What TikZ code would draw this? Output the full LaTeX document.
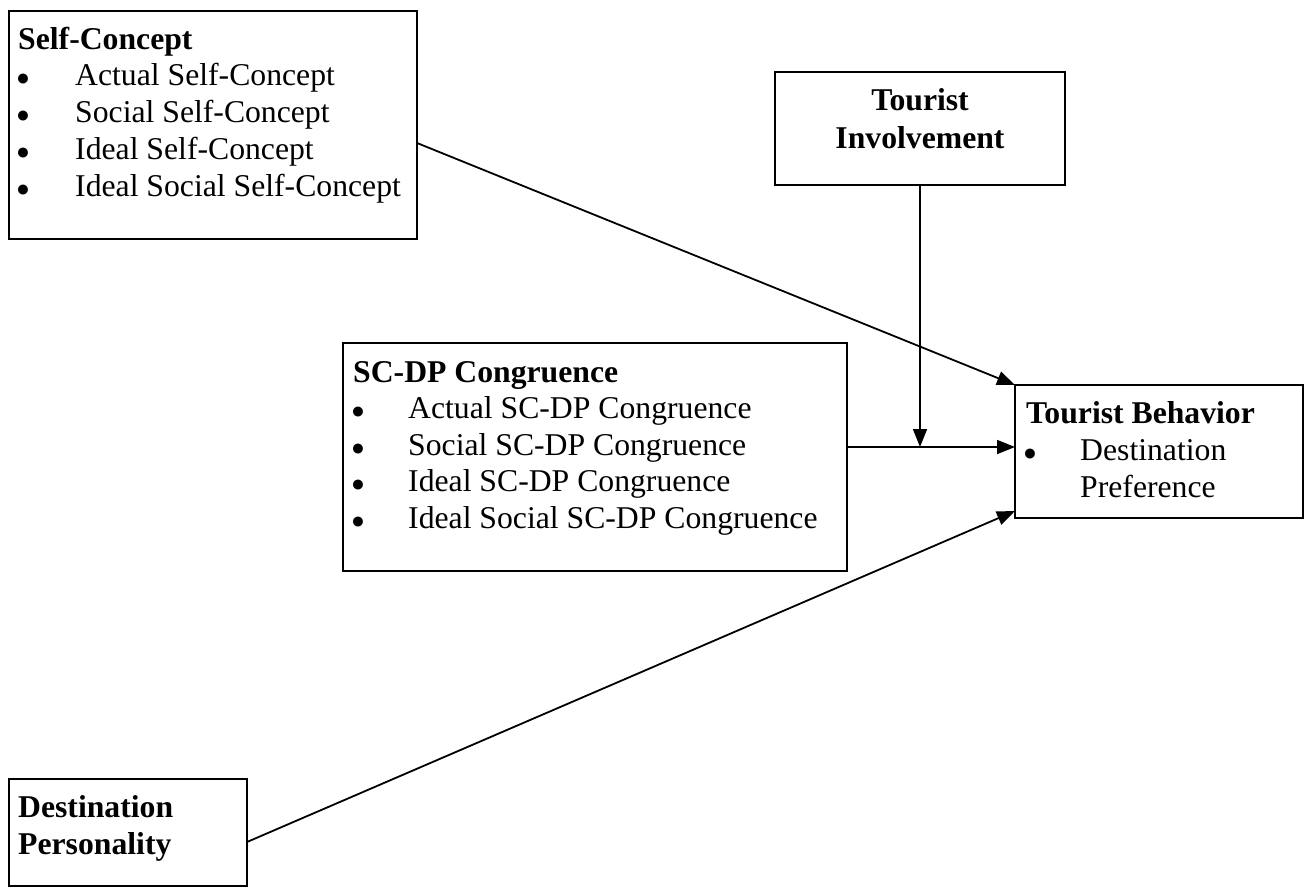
\documentclass[tikz,border=0pt]{standalone}
\usepackage{fontspec}
\setmainfont{Liberation Serif}
\usetikzlibrary{arrows.meta}
\begin{document}
\begin{tikzpicture}[x=1pt,y=-1pt,
  box/.style={draw=black, line width=2pt, inner sep=0pt, outer sep=0pt, anchor=north west},
  txt/.style={anchor=base west, inner sep=0pt, font=\fontsize{31.7}{37}\selectfont},
  ttl/.style={anchor=base west, inner sep=0pt, font=\fontsize{31.7}{37}\selectfont\bfseries},
  cttl/.style={anchor=base, inner sep=0pt, font=\fontsize{31.7}{37}\selectfont\bfseries},
  bul/.style={anchor=base, inner sep=0pt, font=\fontsize{23}{23}\selectfont},
  arr/.style={line width=1.8pt, -{Triangle[length=18pt,width=14pt]}}]

\useasboundingbox[fill=white] (0,0) rectangle (1311,888);

% boxes
\node[box, minimum width=408pt, minimum height=228pt] (sc) at (9,11) {};
\node[box, minimum width=290pt, minimum height=113pt] (ti) at (775,72) {};
\node[box, minimum width=504pt, minimum height=228pt] (scdp) at (343,343) {};
\node[box, minimum width=288pt, minimum height=133pt] (tb) at (1015,385) {};
\node[box, minimum width=238pt, minimum height=107pt] (dp) at (9,779) {};

% Self-Concept text
\node[ttl] (sc0) at (18,50) {Self-Concept};
\node[bul] (scb1) at (23,86) {●};
\node[txt] (sc1) at (75,86) {Actual Self-Concept};
\node[bul] (scb2) at (23,123) {●};
\node[txt] (sc2) at (75,123) {Social Self-Concept};
\node[bul] (scb3) at (23,159) {●};
\node[txt] (sc3) at (75,159) {Ideal Self-Concept};
\node[bul] (scb4) at (23,196) {●};
\node[txt] (sc4) at (75,196) {Ideal Social Self-Concept};

% Tourist Involvement text
\node[cttl] (ti1) at (920,111) {Tourist};
\node[cttl] (ti2) at (920,148) {Involvement};

% SC-DP text
\node[ttl] (sd0) at (353,382) {SC-DP Congruence};
\node[bul] (sdb1) at (358,418) {●};
\node[txt] (sd1) at (408,418) {Actual SC-DP Congruence};
\node[bul] (sdb2) at (358,455) {●};
\node[txt] (sd2) at (408,455) {Social SC-DP Congruence};
\node[bul] (sdb3) at (358,491) {●};
\node[txt] (sd3) at (408,491) {Ideal SC-DP Congruence};
\node[bul] (sdb4) at (358,528) {●};
\node[txt] (sd4) at (408,528) {Ideal Social SC-DP Congruence};

% Tourist Behavior text
\node[ttl] (tb0) at (1026,423) {Tourist Behavior};
\node[bul] (tbb1) at (1030,460) {●};
\node[txt] (tb1) at (1080,460) {Destination};
\node[txt] (tb2) at (1080,497) {Preference};

% Destination Personality text
\node[ttl] (dp1) at (18,817) {Destination};
\node[ttl] (dp2) at (18,854) {Personality};

% connectors
\coordinate (hl) at (0,447);
\coordinate (scy) at (0,143);
\coordinate (dpy) at (0,842);
\coordinate (tbl) at (0,511);
\draw[arr] (sc.east |- scy) -- (tb.north west);
\draw[arr] (scdp.east |- hl) -- (tb.west |- hl);
\draw[arr] (ti.south) -- (ti.south |- hl);
\draw[arr] (dp.east |- dpy) -- (tb.west |- tbl);
\end{tikzpicture}
\end{document}
